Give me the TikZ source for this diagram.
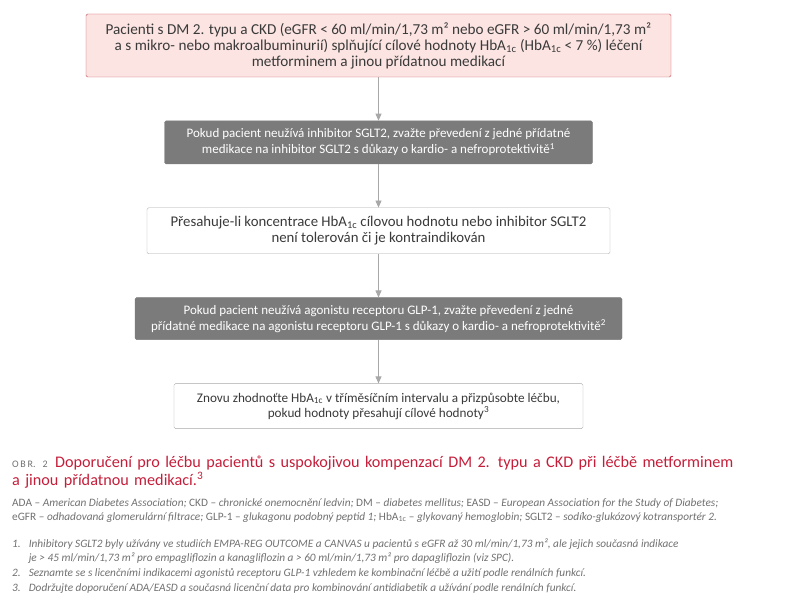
\documentclass[tikz,border=0pt]{standalone}
\usepackage{fontspec}
\setmainfont{Carlito}
\usepackage{tikz}
\usetikzlibrary{positioning, arrows.meta}
\definecolor{boxpink}{HTML}{FBE4E1}
\definecolor{boxred}{HTML}{C9505A}
\definecolor{boxgray}{HTML}{7B7B7B}
\definecolor{linegray}{HTML}{A8A8A8}
\definecolor{textdark}{HTML}{3A3A3A}
\definecolor{titlered}{HTML}{C41E3A}
\definecolor{notegray}{HTML}{707070}
\tikzset{
    base/.style={draw=linegray, rectangle, rounded corners=1.5pt, align=center, text=textdark,
        font=\fontsize{13}{16}\selectfont, inner sep=2pt},
    startbox/.style={base, fill=boxpink, draw=boxred},
    darkbox/.style={base, fill=boxgray, draw=boxgray, text=white},
    lightbox/.style={base, fill=white},
    arrow/.style={draw=linegray, line width=0.8pt, -{Triangle[length=7pt, width=6pt]}},
    note/.style={anchor=north west, align=left, inner sep=0pt, text=notegray}
}
\newcommand{\hba}{HbA\textsubscript{1c}}

\begin{document}
\begin{tikzpicture}[x=1pt, y=1pt, node distance=43.5pt]
\useasboundingbox (0,0) rectangle (798,-612);
\node[startbox, minimum width=585pt, minimum height=63pt, font=\fontsize{15.2}{16}\selectfont] (start) at (378.5,-45.5)
    {Pacienti s DM 2. typu a CKD (eGFR < 60 ml/min/1,73 m² nebo eGFR > 60 ml/min/1,73 m²\\
     a s mikro- nebo makroalbuminurií) splňující cílové hodnoty \hba{} (\hba{} < 7 \%) léčení\\
     metforminem a jinou přídatnou medikací};
\node[darkbox, minimum width=428pt, minimum height=43pt, below=of start] (sglt)
    {Pokud pacient neužívá inhibitor SGLT2, zvažte převedení z jedné přídatné\\
     medikace na inhibitor SGLT2 s důkazy o kardio- a nefroprotektivitě\textsuperscript{1}};
\node[lightbox, minimum width=463pt, minimum height=46pt, font=\fontsize{14.8}{16}\selectfont, below=of sglt] (exceed)
    {Přesahuje-li koncentrace \hba{} cílovou hodnotu nebo inhibitor SGLT2\\
     není tolerován či je kontraindikován};
\node[darkbox, minimum width=487pt, minimum height=42pt, below=of exceed] (glp)
    {Pokud pacient neužívá agonistu receptoru GLP-1, zvažte převedení z jedné\\
     přídatné medikace na agonistu receptoru GLP-1 s důkazy o kardio- a nefroprotektivitě\textsuperscript{2}};
\node[lightbox, minimum width=409pt, minimum height=45pt, font=\fontsize{13.2}{15}\selectfont, below=of glp] (recheck)
    {Znovu zhodnoťte \hba{} v tříměsíčním intervalu a přizpůsobte léčbu,\\
     pokud hodnoty přesahují cílové hodnoty\textsuperscript{3}};
\draw[arrow] (start) -- (sglt);
\draw[arrow] (sglt) -- (exceed);
\draw[arrow] (exceed) -- (glp);
\draw[arrow] (glp) -- (recheck);
% caption and notes
\node[note, text width=760pt, font=\fontsize{16.2}{18}\selectfont] (title) at (12,-456)
    {\makebox[43pt][l]{\fontsize{10}{10}\selectfont O\,B\,R.\, 2}\textcolor{titlered}{Doporučení pro léčbu pacientů s uspokojivou kompenzací DM 2. typu a CKD při léčbě metforminem\\
     a jinou přídatnou medikací.\textsuperscript{3}}};
\node[note, font=\fontsize{11.3}{14}\selectfont] (abbr) at (12,-498)
    {ADA -- \textit{American Diabetes Association;} CKD -- \textit{chronické onemocnění ledvin;} DM -- \textit{diabetes mellitus;} EASD -- \textit{European Association for the Study of Diabetes;}\\
     eGFR -- \textit{odhadovaná glomerulární filtrace;} GLP-1 -- \textit{glukagonu podobný peptid 1;} \hba{} -- \textit{glykovaný hemoglobin;} SGLT2 -- \textit{sodíko-glukózový kotransportér 2.}};
\node[note, font=\fontsize{11.3}{13.5}\selectfont\itshape] (notes) at (12,-538)
    {\begin{tabular}{@{}l@{\hspace{8pt}}l@{}}
     1. & Inhibitory SGLT2 byly užívány ve studiích EMPA-REG OUTCOME a CANVAS u pacientů s eGFR až 30 ml/min/1,73 m², ale jejich současná indikace\\
        & je > 45 ml/min/1,73 m² pro empagliflozin a kanagliflozin a > 60 ml/min/1,73 m² pro dapagliflozin (viz SPC).\\[1.5pt]
     2. & Seznamte se s licenčními indikacemi agonistů receptoru GLP-1 vzhledem ke kombinační léčbě a užití podle renálních funkcí.\\[1.5pt]
     3. & Dodržujte doporučení ADA/EASD a současná licenční data pro kombinování antidiabetik a užívání podle renálních funkcí.
     \end{tabular}};
\end{tikzpicture}
\end{document}
